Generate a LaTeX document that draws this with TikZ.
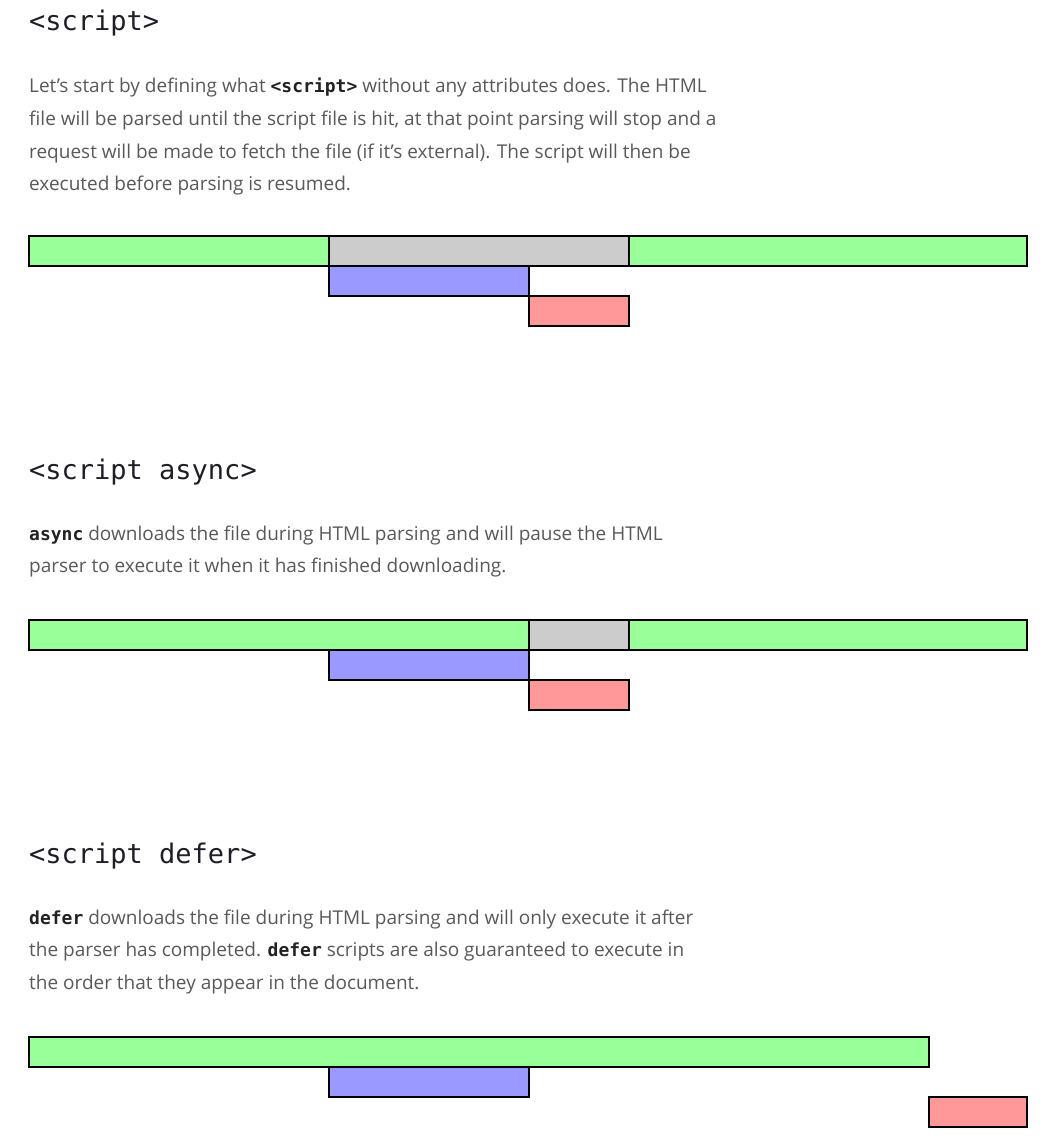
\documentclass[tikz,border=0pt]{standalone}
\usepackage{fontspec}
\setmainfont{Open Sans}
\newfontfamily\codefont{DejaVu Sans Mono}
\definecolor{bodygray}{HTML}{595959}
\definecolor{headdark}{HTML}{1E1E28}
\definecolor{codedark}{HTML}{222222}
\definecolor{parsegreen}{HTML}{99FF99}
\definecolor{waitgray}{HTML}{CCCCCC}
\definecolor{fetchblue}{HTML}{9999FF}
\definecolor{execred}{HTML}{FF9999}
\newcommand{\cd}[1]{{\codefont\fontsize{18}{32.4}\selectfont\bfseries\color{codedark}#1}}
\tikzset{
  heading/.style={anchor=base west, inner sep=0pt, text=headdark, font=\codefont\fontsize{27}{30}\selectfont},
  bodyline/.style={anchor=base west, inner sep=0pt, text=bodygray, font=\fontsize{19}{32.4}\selectfont},
  bar/.style={anchor=north west, inner sep=0pt, outer sep=0pt, draw=black, line width=2pt, minimum height=30pt},
  parse/.style={bar, fill=parsegreen},
  wait/.style={bar, fill=waitgray},
  fetch/.style={bar, fill=fetchblue},
  exec/.style={bar, fill=execred}
}
\begin{document}
\begin{tikzpicture}[x=1pt,y=-1pt]
\useasboundingbox[fill=white] (0,0) rectangle (1056,1145);
% section 1
\node[heading] (h1) at (29,31) {<script>};
\node[bodyline] (p1a) at (29,93) {Let’s start by defining what \cd{<script>} without any attributes does. The HTML};
\node[bodyline] (p1b) at (29,125.5) {file will be parsed until the script file is hit, at that point parsing will stop and a};
\node[bodyline] (p1c) at (29,158) {request will be made to fetch the file (if it’s external). The script will then be};
\node[bodyline] (p1d) at (29,190.5) {executed before parsing is resumed.};
\node[parse, minimum width=300pt] (g1a) at (29,236) {};
\node[wait, minimum width=300pt] (w1) at (329,236) {};
\node[parse, minimum width=398pt] (g1b) at (629,236) {};
\node[fetch, minimum width=200pt] (f1) at (329,266) {};
\node[exec, minimum width=100pt] (e1) at (529,296) {};
% section 2
\node[heading] (h2) at (29,479) {<script async>};
\node[bodyline] (p2a) at (29,540) {\cd{async} downloads the file during HTML parsing and will pause the HTML};
\node[bodyline] (p2b) at (29,572.5) {parser to execute it when it has finished downloading.};
\node[parse, minimum width=500pt] (g2a) at (29,620) {};
\node[wait, minimum width=100pt] (w2) at (529,620) {};
\node[parse, minimum width=398pt] (g2b) at (629,620) {};
\node[fetch, minimum width=200pt] (f2) at (329,650) {};
\node[exec, minimum width=100pt] (e2) at (529,680) {};
% section 3
\node[heading] (h3) at (29,863) {<script defer>};
\node[bodyline] (p3a) at (29,924) {\cd{defer} downloads the file during HTML parsing and will only execute it after};
\node[bodyline] (p3b) at (29,956.5) {the parser has completed. \cd{defer} scripts are also guaranteed to execute in};
\node[bodyline] (p3c) at (29,989) {the order that they appear in the document.};
\node[parse, minimum width=900pt] (g3) at (29,1037) {};
\node[fetch, minimum width=200pt] (f3) at (329,1067) {};
\node[exec, minimum width=98pt] (e3) at (929,1097) {};
\end{tikzpicture}
\end{document}
